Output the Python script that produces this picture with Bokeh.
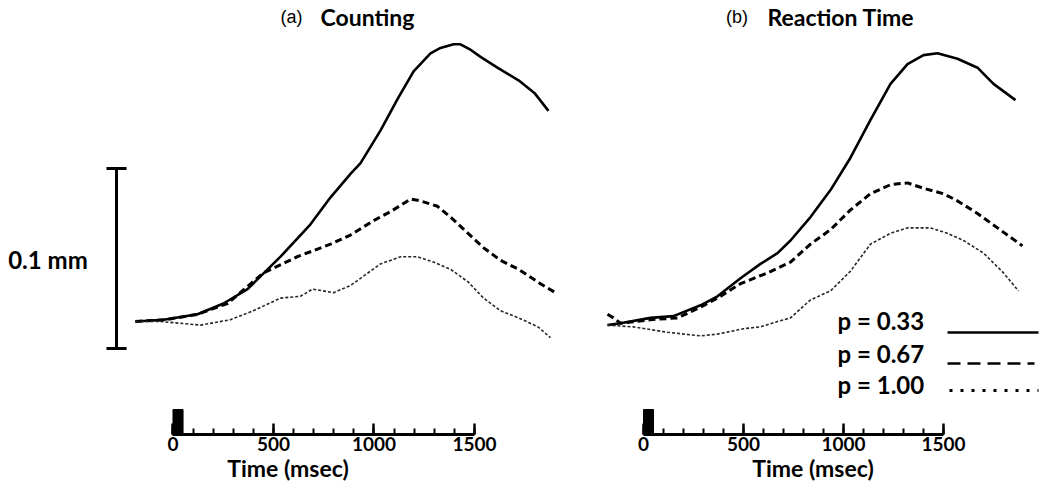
from bokeh.plotting import figure
from bokeh.layouts import row
from bokeh.models import Range1d, SingleIntervalTicker
from bokeh.core.properties import value
from bokeh.embed import file_html
from bokeh.resources import INLINE

# ---------------- data (time in msec, pupil dilation in mm) ----------------
probabilities = ["p = 0.33", "p = 0.67", "p = 1.00"]
panel_titles = ["(a)", "(b)"]
panel_names = ["Counting", "Reaction Time"]
tick_values = [0, 500, 1000, 1500]
stimulus = [0, 50]          # stimulus bar (msec)
scale_bar_mm = 0.1

# (a) Counting
a_solid_t = [-187, -47, 122, 251, 371, 535, 684, 784, 883, 933, 1032, 1119, 1197, 1281, 1331, 1396, 1430, 1480, 1530, 1614, 1719, 1798, 1868]
a_solid_v = [0.000, 0.001, 0.004, 0.010, 0.018, 0.036, 0.054, 0.069, 0.082, 0.088, 0.106, 0.124, 0.139, 0.149, 0.152, 0.154, 0.154, 0.151, 0.147, 0.141, 0.134, 0.127, 0.117]
a_dash_t = [-187, -37, 122, 271, 450, 619, 784, 883, 997, 1082, 1182, 1231, 1316, 1381, 1468, 1545, 1629, 1719, 1828, 1903]
a_dash_v = [0.000, 0.001, 0.004, 0.010, 0.027, 0.036, 0.043, 0.048, 0.056, 0.061, 0.068, 0.067, 0.064, 0.058, 0.049, 0.041, 0.034, 0.029, 0.021, 0.016]
a_dot_t = [-187, -62, 37, 137, 286, 400, 535, 634, 694, 799, 883, 933, 1032, 1134, 1216, 1296, 1381, 1468, 1545, 1629, 1719, 1816, 1878]
a_dot_v = [0.000, 0.000, -0.001, -0.002, 0.001, 0.006, 0.013, 0.014, 0.018, 0.016, 0.020, 0.024, 0.032, 0.036, 0.036, 0.033, 0.029, 0.022, 0.013, 0.006, 0.002, -0.003, -0.009]

# (b) Reaction Time
b_solid_t = [-180, -115, 35, 150, 285, 370, 485, 585, 670, 735, 835, 935, 1035, 1135, 1235, 1320, 1400, 1470, 1570, 1670, 1750, 1860]
b_solid_v = [-0.002, -0.001, 0.002, 0.003, 0.009, 0.014, 0.024, 0.032, 0.038, 0.045, 0.058, 0.073, 0.091, 0.112, 0.132, 0.143, 0.148, 0.149, 0.146, 0.141, 0.132, 0.123]
b_dash_t = [-180, -150, -115, 35, 170, 285, 370, 485, 620, 735, 835, 935, 1035, 1135, 1235, 1320, 1400, 1500, 1570, 1670, 1770, 1895]
b_dash_v = [0.004, 0.002, -0.001, 0.001, 0.002, 0.008, 0.013, 0.021, 0.027, 0.033, 0.043, 0.051, 0.062, 0.071, 0.076, 0.077, 0.074, 0.071, 0.067, 0.060, 0.052, 0.042]
b_dot_t = [-180, -50, 120, 285, 370, 500, 585, 670, 735, 835, 935, 1035, 1135, 1235, 1320, 1435, 1520, 1600, 1700, 1800, 1875]
b_dot_v = [-0.002, -0.003, -0.006, -0.008, -0.007, -0.004, -0.003, 0.000, 0.002, 0.012, 0.017, 0.028, 0.043, 0.049, 0.052, 0.052, 0.049, 0.045, 0.038, 0.027, 0.017]

# ---------------- styling ----------------
FONT = value("Lato")
Y_RANGE = (-0.06278, 0.17833)
SOLID = dict(line_color="black", line_width=2.6, line_join="round")
DASH = dict(line_color="black", line_width=3, line_dash="7 4")
DOT = dict(line_color="#262626", line_width=1.6, line_dash="3 2")


def make_panel(width, x_range, series, title_tag, title_name, tag_x, name_x):
    p = figure(width=width, height=499, output_backend="svg", toolbar_location=None,
               x_range=Range1d(*x_range), y_range=Range1d(*Y_RANGE),
               min_border_left=0, min_border_right=0, min_border_top=0, min_border_bottom=65,
               x_axis_location="below", y_axis_location=None,
               background_fill_color="white", border_fill_color="white")
    p.outline_line_color = None
    p.grid.visible = False

    ax = p.xaxis[0]
    ax.ticker = SingleIntervalTicker(interval=500, num_minor_ticks=5)
    ax.bounds = (tick_values[0], tick_values[-1])
    ax.axis_line_width = 3
    ax.axis_line_color = "black"
    ax.major_tick_in = 11
    ax.major_tick_out = 0
    ax.major_tick_line_width = 2.5
    ax.minor_tick_in = 6
    ax.minor_tick_out = 0
    ax.minor_tick_line_width = 2
    ax.major_label_text_font = "Lato"
    ax.major_label_text_font_style = "bold"
    ax.major_label_text_font_size = "19px"
    ax.major_label_text_color = "black"
    ax.major_label_standoff = 2
    ax.axis_label = "Time (msec)"
    ax.axis_label_text_font = "Lato"
    ax.axis_label_text_font_style = "bold"
    ax.axis_label_text_font_size = "23px"
    ax.axis_label_text_color = "black"
    ax.axis_label_standoff = 0

    # stimulus bar
    p.quad(left=[stimulus[0]], right=[stimulus[1]], bottom=[Y_RANGE[0] - 0.01], top=[-0.0489],
           fill_color="black", line_color="black")

    (st, sv), (dt, dv), (ot, ov) = series
    p.line(st, sv, **SOLID)
    p.line(dt, dv, **DASH)
    p.line(ot, ov, **DOT)

    # panel titles
    p.text(x=[tag_x], y=[0.1689], text=[title_tag], text_font=value("Liberation Sans"),
           text_font_size="18px", text_align="center", text_baseline="middle", text_color="black")
    p.text(x=[name_x], y=[0.1694], text=[title_name], text_font=FONT, text_font_style="bold",
           text_font_size="23px", text_align="left", text_baseline="middle", text_color="black")
    return p


pa = make_panel(575, (-858.2, 2002.5),
                [(a_solid_t, a_solid_v), (a_dash_t, a_dash_v), (a_dot_t, a_dot_v)],
                panel_titles[0], panel_names[0], 590, 734)
pb = make_panel(475, (-340, 2035),
                [(b_solid_t, b_solid_v), (b_dash_t, b_dash_v), (b_dot_t, b_dot_v)],
                panel_titles[1], panel_names[1], 467, 620)

# scale bar (0.1 mm) in panel (a)
sb_x, sb_bottom, cap = -281, -0.015, 50
sb_top = sb_bottom + scale_bar_mm
pa.segment(x0=[sb_x, sb_x - cap, sb_x - cap], y0=[sb_bottom, sb_bottom, sb_top],
           x1=[sb_x, sb_x + cap, sb_x + cap], y1=[sb_top, sb_bottom, sb_top],
           line_color="black", line_width=3)
pa.text(x=[-622], y=[0.0344], text=["%.1f mm" % scale_bar_mm], text_font=FONT, text_font_style="bold",
        text_font_size="24px", text_align="center", text_baseline="middle", text_color="black")

# legend in panel (b)
leg_y_text = [0.0006, -0.0178, -0.035]
leg_y_line = [-0.0061, -0.0233, -0.0383]
pb.text(x=[970] * 3, y=leg_y_text, text=probabilities, text_font=FONT, text_font_style="bold",
        text_font_size="24px", text_align="left", text_baseline="middle", text_color="black")
pb.line([1520, 1975], [leg_y_line[0]] * 2, line_color="black", line_width=2.6)
pb.line([1520, 1955], [leg_y_line[1]] * 2, line_color="black", line_width=2.6, line_dash="13 7")
pb.line([1530, 1975], [leg_y_line[2]] * 2, line_color="black", line_width=3, line_dash="3 8")

layout = row(pa, pb)
open("out.html", "w").write(file_html(layout, INLINE))
